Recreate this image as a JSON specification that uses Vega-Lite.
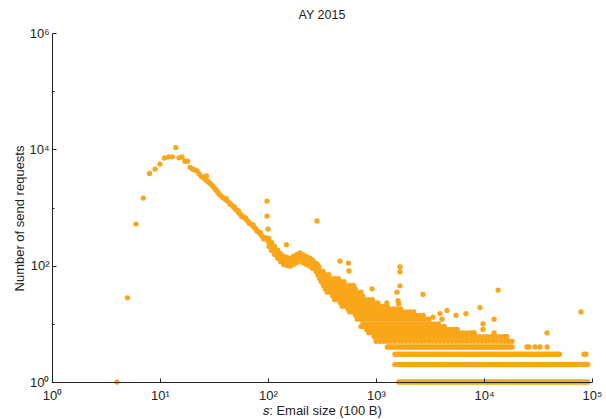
{
"$schema": "https://vega.github.io/schema/vega-lite/v6.json",
"width": 540,
"height": 349,
"autosize": "none",
"padding": {"left": 52, "top": 33, "right": 14, "bottom": 37},
"background": "white",
"title": {"text": "AY 2015", "frame": "group", "anchor": "middle", "font": "Liberation Sans", "fontSize": 12.5, "fontWeight": "normal", "color": "#222222", "offset": 6},
"config": {"view": {"stroke": null}, "font": "Liberation Sans"},
"data": {"values": [
{"s":4,"n":1},{"s":5,"n":28},{"s":6,"n":519},{"s":7,"n":1450},{"s":8,"n":3860},{"s":9,"n":4570},{"s":10,"n":5570},{"s":11,"n":7100},{"s":12,"n":7430},{"s":13,"n":7430},{"s":14,"n":10700},{"s":15,"n":7140},{"s":16,"n":7430},{"s":17,"n":6270},{"s":18,"n":6270},{"s":19,"n":4900},
{"s":20,"n":4570},{"s":21,"n":4420},{"s":22,"n":4270},{"s":23,"n":3800},{"s":24,"n":3470},{"s":25,"n":3310},{"s":26,"n":3090},{"s":27,"n":3500},{"s":27,"n":2920},{"s":28,"n":2750},{"s":29,"n":2610},{"s":30,"n":2450},{"s":31,"n":2310},{"s":32,"n":2140},{"s":33,"n":2000},{"s":34,"n":1860},{"s":35,"n":1740},{"s":36,"n":1630},{"s":38,"n":1500},{"s":40,"n":1380},{"s":42,"n":1290},{"s":44,"n":1200},{"s":46,"n":1110},{"s":48,"n":1020},{"s":50,"n":933},{"s":52,"n":859},{"s":54,"n":804},{"s":56,"n":755},{"s":58,"n":713},{"s":60,"n":671},{"s":63,"n":617},{"s":66,"n":568},{"s":69,"n":525},{"s":72,"n":485},{"s":75,"n":450},{"s":78,"n":417},{"s":81,"n":389},{"s":84,"n":359},{"s":87,"n":331},{"s":90,"n":309},{"s":93,"n":299},{"s":96,"n":288},{"s":99,"n":279},{"s":102,"n":251},{"s":105,"n":234},{"s":108,"n":214},{"s":111,"n":200},{"s":115,"n":184},{"s":119,"n":170},{"s":123,"n":158},{"s":127,"n":148},{"s":131,"n":138},{"s":135,"n":129},{"s":140,"n":123},{"s":145,"n":122},{"s":150,"n":119},{"s":155,"n":117},{"s":160,"n":115},{"s":166,"n":120},{"s":172,"n":123},{"s":178,"n":126},{"s":184,"n":132},{"s":190,"n":136},{"s":197,"n":141},{"s":204,"n":136},{"s":211,"n":132},{"s":218,"n":129},{"s":226,"n":124},{"s":234,"n":120},{"s":242,"n":116},{"s":250,"n":112},{"s":259,"n":106},{"s":268,"n":100},{"s":277,"n":95},{"s":287,"n":89},{"s":297,"n":81},
{"s":41,"n":1420},{"s":45,"n":1120},{"s":49,"n":1010},{"s":53,"n":880},{"s":57,"n":700},{"s":62,"n":660},{"s":67,"n":530},{"s":73,"n":500},{"s":79,"n":390},{"s":85,"n":370},{"s":91,"n":290},{"s":97,"n":300},
{"s":102,"n":294},{"s":102,"n":213},{"s":108,"n":250},{"s":108,"n":182},{"s":115,"n":215},{"s":115,"n":156},{"s":123,"n":185},{"s":123,"n":134},{"s":131,"n":161},{"s":131,"n":117},{"s":140,"n":144},{"s":140,"n":105},{"s":150,"n":139},{"s":150,"n":101},{"s":160,"n":135},{"s":160,"n":98},{"s":172,"n":144},{"s":172,"n":105},{"s":184,"n":154},{"s":184,"n":112},{"s":197,"n":165},{"s":197,"n":120},{"s":211,"n":154},{"s":211,"n":112},{"s":226,"n":145},{"s":226,"n":105},{"s":242,"n":136},{"s":242,"n":99},{"s":259,"n":124},{"s":259,"n":90},{"s":277,"n":111},{"s":277,"n":81},{"s":287,"n":104},{"s":287,"n":76},{"s":297,"n":95},{"s":297,"n":69},
{"s":98,"n":1290},{"s":98,"n":712},{"s":100,"n":425},{"s":148,"n":230},{"s":284,"n":587},{"s":464,"n":120},{"s":555,"n":111},{"s":562,"n":81},{"s":400,"n":31},{"s":522,"n":23},{"s":918,"n":40},{"s":1667,"n":95},{"s":1667,"n":78},{"s":1667,"n":45},{"s":1565,"n":35},{"s":1600,"n":25},{"s":1620,"n":22},{"s":759,"n":9},{"s":1260,"n":23},{"s":2724,"n":32},{"s":3916,"n":15},{"s":4540,"n":17},{"s":5510,"n":14},{"s":6810,"n":15},{"s":9180,"n":19},{"s":9800,"n":10},{"s":9800,"n":8},{"s":12400,"n":12},{"s":12400,"n":7},{"s":13500,"n":38},{"s":15600,"n":6},{"s":16300,"n":6},{"s":17000,"n":5},{"s":4080,"n":12},{"s":3370,"n":13},{"s":7900,"n":7},{"s":38300,"n":7},{"s":79100,"n":16},
{"s":285,"n":80},{"s":300,"n":80},{"s":325,"n":80},
{"s":290,"n":70},{"s":312,"n":70},{"s":338,"n":70},{"s":366,"n":70},
{"s":300,"n":60},{"s":325,"n":60},{"s":352,"n":60},{"s":381,"n":60},{"s":413,"n":60},{"s":448,"n":60},
{"s":312,"n":53},{"s":338,"n":53},{"s":366,"n":53},{"s":397,"n":53},{"s":430,"n":53},{"s":467,"n":53},{"s":506,"n":53},
{"s":325,"n":46},{"s":352,"n":46},{"s":381,"n":46},{"s":413,"n":46},{"s":448,"n":46},{"s":486,"n":46},{"s":527,"n":46},{"s":571,"n":46},{"s":619,"n":46},
{"s":338,"n":40},{"s":366,"n":40},{"s":397,"n":40},{"s":430,"n":40},{"s":467,"n":40},{"s":506,"n":40},{"s":549,"n":40},{"s":594,"n":40},{"s":645,"n":40},
{"s":352,"n":35},{"s":381,"n":35},{"s":413,"n":35},{"s":448,"n":35},{"s":486,"n":35},{"s":527,"n":35},{"s":571,"n":35},{"s":619,"n":35},{"s":671,"n":35},{"s":727,"n":35},
{"s":397,"n":30},{"s":430,"n":30},{"s":467,"n":30},{"s":506,"n":30},{"s":549,"n":30},{"s":594,"n":30},{"s":645,"n":30},{"s":699,"n":30},{"s":757,"n":30},
{"s":413,"n":26},{"s":448,"n":26},{"s":486,"n":26},{"s":527,"n":26},{"s":571,"n":26},{"s":619,"n":26},{"s":671,"n":26},{"s":727,"n":26},{"s":788,"n":26},{"s":855,"n":26},{"s":927,"n":26},
{"s":467,"n":23},{"s":506,"n":23},{"s":549,"n":23},{"s":594,"n":23},{"s":645,"n":23},{"s":699,"n":23},{"s":757,"n":23},{"s":821,"n":23},{"s":890,"n":23},{"s":963,"n":23},{"s":1041,"n":23},
{"s":486,"n":20},{"s":527,"n":20},{"s":571,"n":20},{"s":619,"n":20},{"s":671,"n":20},{"s":727,"n":20},{"s":788,"n":20},{"s":855,"n":20},{"s":927,"n":20},{"s":1000,"n":20},{"s":1084,"n":20},{"s":1175,"n":20},{"s":1274,"n":20},
{"s":549,"n":18},{"s":594,"n":18},{"s":645,"n":18},{"s":699,"n":18},{"s":757,"n":18},{"s":821,"n":18},{"s":890,"n":18},{"s":963,"n":18},{"s":1041,"n":18},{"s":1128,"n":18},{"s":1223,"n":18},{"s":1327,"n":18},{"s":1437,"n":18},{"s":1558,"n":18},{"s":1689,"n":18},
{"s":571,"n":16},{"s":619,"n":16},{"s":671,"n":16},{"s":727,"n":16},{"s":788,"n":16},{"s":855,"n":16},{"s":927,"n":16},{"s":1000,"n":16},{"s":1084,"n":16},{"s":1175,"n":16},{"s":1274,"n":16},{"s":1380,"n":16},{"s":1496,"n":16},{"s":1622,"n":16},{"s":1758,"n":16},{"s":1905,"n":16},{"s":2065,"n":16},{"s":2239,"n":16},
{"s":645,"n":14},{"s":699,"n":14},{"s":757,"n":14},{"s":821,"n":14},{"s":890,"n":14},{"s":963,"n":14},{"s":1041,"n":14},{"s":1128,"n":14},{"s":1223,"n":14},{"s":1327,"n":14},{"s":1437,"n":14},{"s":1558,"n":14},{"s":1689,"n":14},{"s":1830,"n":14},{"s":1984,"n":14},{"s":2150,"n":14},{"s":2331,"n":14},{"s":2527,"n":14},{"s":2739,"n":14},
{"s":671,"n":12},{"s":727,"n":12},{"s":788,"n":12},{"s":855,"n":12},{"s":927,"n":12},{"s":1000,"n":12},{"s":1084,"n":12},{"s":1175,"n":12},{"s":1274,"n":12},{"s":1380,"n":12},{"s":1496,"n":12},{"s":1622,"n":12},{"s":1758,"n":12},{"s":1905,"n":12},{"s":2065,"n":12},{"s":2239,"n":12},{"s":2427,"n":12},{"s":2630,"n":12},{"s":2851,"n":12},{"s":3090,"n":12},
{"s":757,"n":10},{"s":821,"n":10},{"s":890,"n":10},{"s":963,"n":10},{"s":1041,"n":10},{"s":1128,"n":10},{"s":1223,"n":10},{"s":1327,"n":10},{"s":1437,"n":10},{"s":1558,"n":10},{"s":1689,"n":10},{"s":1830,"n":10},{"s":1984,"n":10},{"s":2150,"n":10},{"s":2331,"n":10},{"s":2527,"n":10},{"s":2739,"n":10},{"s":2968,"n":10},{"s":3217,"n":10},{"s":3488,"n":10},{"s":3780,"n":10},
{"s":727,"n":9},{"s":788,"n":9},{"s":855,"n":9},{"s":927,"n":9},{"s":1000,"n":9},{"s":1084,"n":9},{"s":1175,"n":9},{"s":1274,"n":9},{"s":1380,"n":9},{"s":1496,"n":9},{"s":1622,"n":9},{"s":1758,"n":9},{"s":1905,"n":9},{"s":2065,"n":9},{"s":2239,"n":9},{"s":2427,"n":9},{"s":2630,"n":9},{"s":2851,"n":9},{"s":3090,"n":9},{"s":3350,"n":9},{"s":3631,"n":9},{"s":3936,"n":9},{"s":4267,"n":9},
{"s":821,"n":8},{"s":890,"n":8},{"s":963,"n":8},{"s":1041,"n":8},{"s":1128,"n":8},{"s":1223,"n":8},{"s":1327,"n":8},{"s":1437,"n":8},{"s":1558,"n":8},{"s":1689,"n":8},{"s":1830,"n":8},{"s":1984,"n":8},{"s":2150,"n":8},{"s":2331,"n":8},{"s":2527,"n":8},{"s":2739,"n":8},{"s":2968,"n":8},{"s":3217,"n":8},{"s":3488,"n":8},{"s":3780,"n":8},{"s":4098,"n":8},{"s":4443,"n":8},{"s":4815,"n":8},{"s":5220,"n":8},{"s":5659,"n":8},
{"s":855,"n":7},{"s":927,"n":7},{"s":1000,"n":7},{"s":1084,"n":7},{"s":1175,"n":7},{"s":1274,"n":7},{"s":1380,"n":7},{"s":1496,"n":7},{"s":1622,"n":7},{"s":1758,"n":7},{"s":1905,"n":7},{"s":2065,"n":7},{"s":2239,"n":7},{"s":2427,"n":7},{"s":2630,"n":7},{"s":2851,"n":7},{"s":3090,"n":7},{"s":3350,"n":7},{"s":3631,"n":7},{"s":3936,"n":7},{"s":4267,"n":7},{"s":4625,"n":7},{"s":5013,"n":7},{"s":5435,"n":7},{"s":5891,"n":7},{"s":6386,"n":7},{"s":6922,"n":7},{"s":7503,"n":7},{"s":8134,"n":7},
{"s":963,"n":6},{"s":1041,"n":6},{"s":1128,"n":6},{"s":1223,"n":6},{"s":1327,"n":6},{"s":1437,"n":6},{"s":1558,"n":6},{"s":1689,"n":6},{"s":1830,"n":6},{"s":1984,"n":6},{"s":2150,"n":6},{"s":2331,"n":6},{"s":2527,"n":6},{"s":2739,"n":6},{"s":2968,"n":6},{"s":3217,"n":6},{"s":3488,"n":6},{"s":3780,"n":6},{"s":4098,"n":6},{"s":4443,"n":6},{"s":4815,"n":6},{"s":5220,"n":6},{"s":5659,"n":6},{"s":6134,"n":6},{"s":6649,"n":6},{"s":7207,"n":6},{"s":7812,"n":6},{"s":8469,"n":6},{"s":9180,"n":6},{"s":9951,"n":6},{"s":10790,"n":6},{"s":11690,"n":6},{"s":12670,"n":6},{"s":13730,"n":6},{"s":14890,"n":6},{"s":16140,"n":6},
{"s":1000,"n":5},{"s":1084,"n":5},{"s":1175,"n":5},{"s":1274,"n":5},{"s":1380,"n":5},{"s":1496,"n":5},{"s":1622,"n":5},{"s":1758,"n":5},{"s":1905,"n":5},{"s":2065,"n":5},{"s":2239,"n":5},{"s":2427,"n":5},{"s":2630,"n":5},{"s":2851,"n":5},{"s":3090,"n":5},{"s":3350,"n":5},{"s":3631,"n":5},{"s":3936,"n":5},{"s":4267,"n":5},{"s":4625,"n":5},{"s":5013,"n":5},{"s":5435,"n":5},{"s":5891,"n":5},{"s":6386,"n":5},{"s":6922,"n":5},{"s":7503,"n":5},{"s":8134,"n":5},{"s":8817,"n":5},{"s":9557,"n":5},{"s":10360,"n":5},{"s":11230,"n":5},{"s":12170,"n":5},{"s":13190,"n":5},{"s":14300,"n":5},{"s":15500,"n":5},{"s":16800,"n":5},{"s":18210,"n":5},
{"s":1274,"n":4},{"s":1327,"n":4},{"s":1380,"n":4},{"s":1437,"n":4},{"s":1496,"n":4},{"s":1558,"n":4},{"s":1622,"n":4},{"s":1689,"n":4},{"s":1758,"n":4},{"s":1830,"n":4},{"s":1905,"n":4},{"s":1984,"n":4},{"s":2065,"n":4},{"s":2150,"n":4},{"s":2239,"n":4},{"s":2331,"n":4},{"s":2427,"n":4},{"s":2527,"n":4},{"s":2630,"n":4},{"s":2739,"n":4},{"s":2851,"n":4},{"s":2968,"n":4},{"s":3090,"n":4},{"s":3217,"n":4},{"s":3350,"n":4},{"s":3488,"n":4},{"s":3631,"n":4},{"s":3780,"n":4},{"s":3936,"n":4},{"s":4098,"n":4},{"s":4267,"n":4},{"s":4443,"n":4},{"s":4625,"n":4},{"s":4815,"n":4},{"s":5013,"n":4},{"s":5220,"n":4},{"s":5435,"n":4},{"s":5659,"n":4},{"s":5891,"n":4},{"s":6134,"n":4},{"s":6386,"n":4},{"s":6649,"n":4},{"s":6922,"n":4},{"s":7207,"n":4},{"s":7503,"n":4},{"s":7812,"n":4},{"s":8134,"n":4},{"s":8469,"n":4},{"s":8817,"n":4},{"s":9180,"n":4},{"s":9557,"n":4},{"s":9951,"n":4},{"s":10360,"n":4},{"s":10790,"n":4},{"s":11230,"n":4},{"s":11690,"n":4},{"s":12170,"n":4},{"s":12670,"n":4},{"s":13190,"n":4},{"s":13730,"n":4},{"s":14300,"n":4},{"s":14890,"n":4},{"s":15500,"n":4},{"s":16140,"n":4},{"s":16800,"n":4},{"s":17490,"n":4},{"s":18210,"n":4},{"s":25000,"n":4},{"s":26100,"n":4},{"s":29650,"n":4},{"s":33000,"n":4},{"s":38300,"n":4},
{"s":1496,"n":3},{"s":1558,"n":3},{"s":1622,"n":3},{"s":1689,"n":3},{"s":1758,"n":3},{"s":1830,"n":3},{"s":1905,"n":3},{"s":1984,"n":3},{"s":2065,"n":3},{"s":2150,"n":3},{"s":2239,"n":3},{"s":2331,"n":3},{"s":2427,"n":3},{"s":2527,"n":3},{"s":2630,"n":3},{"s":2739,"n":3},{"s":2851,"n":3},{"s":2968,"n":3},{"s":3090,"n":3},{"s":3217,"n":3},{"s":3350,"n":3},{"s":3488,"n":3},{"s":3631,"n":3},{"s":3780,"n":3},{"s":3936,"n":3},{"s":4098,"n":3},{"s":4267,"n":3},{"s":4443,"n":3},{"s":4625,"n":3},{"s":4815,"n":3},{"s":5013,"n":3},{"s":5220,"n":3},{"s":5435,"n":3},{"s":5659,"n":3},{"s":5891,"n":3},{"s":6134,"n":3},{"s":6386,"n":3},{"s":6649,"n":3},{"s":6922,"n":3},{"s":7207,"n":3},{"s":7503,"n":3},{"s":7812,"n":3},{"s":8134,"n":3},{"s":8469,"n":3},{"s":8817,"n":3},{"s":9180,"n":3},{"s":9557,"n":3},{"s":9951,"n":3},{"s":10360,"n":3},{"s":10790,"n":3},{"s":11230,"n":3},{"s":11690,"n":3},{"s":12170,"n":3},{"s":12670,"n":3},{"s":13190,"n":3},{"s":13730,"n":3},{"s":14300,"n":3},{"s":14890,"n":3},{"s":15500,"n":3},{"s":16140,"n":3},{"s":16800,"n":3},{"s":17490,"n":3},{"s":18210,"n":3},{"s":18960,"n":3},{"s":19740,"n":3},{"s":20550,"n":3},{"s":21400,"n":3},{"s":22280,"n":3},{"s":23200,"n":3},{"s":24150,"n":3},{"s":25150,"n":3},{"s":26190,"n":3},{"s":27260,"n":3},{"s":28380,"n":3},{"s":29550,"n":3},{"s":30770,"n":3},{"s":32030,"n":3},{"s":33350,"n":3},{"s":34720,"n":3},{"s":36150,"n":3},{"s":37640,"n":3},{"s":39190,"n":3},{"s":40800,"n":3},{"s":42480,"n":3},{"s":44230,"n":3},{"s":46050,"n":3},{"s":47950,"n":3},{"s":49920,"n":3},{"s":84330,"n":3},{"s":87800,"n":3},
{"s":1496,"n":2},{"s":1622,"n":2},{"s":1689,"n":2},{"s":1758,"n":2},{"s":1830,"n":2},{"s":1905,"n":2},{"s":1984,"n":2},{"s":2065,"n":2},{"s":2150,"n":2},{"s":2239,"n":2},{"s":2331,"n":2},{"s":2427,"n":2},{"s":2527,"n":2},{"s":2630,"n":2},{"s":2739,"n":2},{"s":2851,"n":2},{"s":2968,"n":2},{"s":3090,"n":2},{"s":3217,"n":2},{"s":3350,"n":2},{"s":3488,"n":2},{"s":3631,"n":2},{"s":3780,"n":2},{"s":3936,"n":2},{"s":4098,"n":2},{"s":4267,"n":2},{"s":4443,"n":2},{"s":4625,"n":2},{"s":4815,"n":2},{"s":5013,"n":2},{"s":5220,"n":2},{"s":5435,"n":2},{"s":5659,"n":2},{"s":5891,"n":2},{"s":6134,"n":2},{"s":6386,"n":2},{"s":6649,"n":2},{"s":6922,"n":2},{"s":7207,"n":2},{"s":7503,"n":2},{"s":7812,"n":2},{"s":8134,"n":2},{"s":8469,"n":2},{"s":8817,"n":2},{"s":9180,"n":2},{"s":9557,"n":2},{"s":9951,"n":2},{"s":10360,"n":2},{"s":10790,"n":2},{"s":11230,"n":2},{"s":11690,"n":2},{"s":12170,"n":2},{"s":12670,"n":2},{"s":13190,"n":2},{"s":13730,"n":2},{"s":14300,"n":2},{"s":14890,"n":2},{"s":15500,"n":2},{"s":16140,"n":2},{"s":16800,"n":2},{"s":17490,"n":2},{"s":18210,"n":2},{"s":18960,"n":2},{"s":19740,"n":2},{"s":20550,"n":2},{"s":21400,"n":2},{"s":22280,"n":2},{"s":23200,"n":2},{"s":24150,"n":2},{"s":25150,"n":2},{"s":26190,"n":2},{"s":27260,"n":2},{"s":28380,"n":2},{"s":29550,"n":2},{"s":30770,"n":2},{"s":32030,"n":2},{"s":33350,"n":2},{"s":34720,"n":2},{"s":36150,"n":2},{"s":37640,"n":2},{"s":39190,"n":2},{"s":40800,"n":2},{"s":42480,"n":2},{"s":44230,"n":2},{"s":46050,"n":2},{"s":47950,"n":2},{"s":49920,"n":2},{"s":51980,"n":2},{"s":54120,"n":2},{"s":56340,"n":2},{"s":58660,"n":2},{"s":61070,"n":2},{"s":63590,"n":2},{"s":66200,"n":2},{"s":68930,"n":2},{"s":71760,"n":2},{"s":74720,"n":2},{"s":77790,"n":2},{"s":80990,"n":2},{"s":84330,"n":2},{"s":87800,"n":2},{"s":91410,"n":2},
{"s":1622,"n":1},{"s":1689,"n":1},{"s":1758,"n":1},{"s":1830,"n":1},{"s":1905,"n":1},{"s":1984,"n":1},{"s":2065,"n":1},{"s":2150,"n":1},{"s":2239,"n":1},{"s":2331,"n":1},{"s":2427,"n":1},{"s":2527,"n":1},{"s":2630,"n":1},{"s":2739,"n":1},{"s":2851,"n":1},{"s":2968,"n":1},{"s":3090,"n":1},{"s":3217,"n":1},{"s":3350,"n":1},{"s":3488,"n":1},{"s":3631,"n":1},{"s":3780,"n":1},{"s":3936,"n":1},{"s":4098,"n":1},{"s":4267,"n":1},{"s":4443,"n":1},{"s":4625,"n":1},{"s":4815,"n":1},{"s":5013,"n":1},{"s":5220,"n":1},{"s":5435,"n":1},{"s":5659,"n":1},{"s":5891,"n":1},{"s":6134,"n":1},{"s":6386,"n":1},{"s":6649,"n":1},{"s":6922,"n":1},{"s":7207,"n":1},{"s":7503,"n":1},{"s":7812,"n":1},{"s":8134,"n":1},{"s":8469,"n":1},{"s":8817,"n":1},{"s":9180,"n":1},{"s":9557,"n":1},{"s":9951,"n":1},{"s":10360,"n":1},{"s":10790,"n":1},{"s":11230,"n":1},{"s":11690,"n":1},{"s":12170,"n":1},{"s":12670,"n":1},{"s":13190,"n":1},{"s":13730,"n":1},{"s":14300,"n":1},{"s":14890,"n":1},{"s":15500,"n":1},{"s":16140,"n":1},{"s":16800,"n":1},{"s":17490,"n":1},{"s":18210,"n":1},{"s":18960,"n":1},{"s":19740,"n":1},{"s":20550,"n":1},{"s":21400,"n":1},{"s":22280,"n":1},{"s":23200,"n":1},{"s":24150,"n":1},{"s":25150,"n":1},{"s":26190,"n":1},{"s":27260,"n":1},{"s":28380,"n":1},{"s":29550,"n":1},{"s":30770,"n":1},{"s":32030,"n":1},{"s":33350,"n":1},{"s":34720,"n":1},{"s":36150,"n":1},{"s":37640,"n":1},{"s":39190,"n":1},{"s":40800,"n":1},{"s":42480,"n":1},{"s":44230,"n":1},{"s":46050,"n":1},{"s":47950,"n":1},{"s":49920,"n":1},{"s":51980,"n":1},{"s":54120,"n":1},{"s":56340,"n":1},{"s":58660,"n":1},{"s":61070,"n":1},{"s":63590,"n":1},{"s":66200,"n":1},{"s":68930,"n":1},{"s":71760,"n":1},{"s":74720,"n":1},{"s":77790,"n":1},{"s":80990,"n":1},{"s":84330,"n":1},{"s":87800,"n":1},{"s":91410,"n":1}
]},
"mark": {"type": "circle", "size": 28, "opacity": 1, "color": "#faa61a"},
"encoding": {
"x": {"field": "s", "type": "quantitative",
 "scale": {"type": "log", "domain": [1, 100000], "nice": false},
 "axis": {"title": "𝑠: Email size (100 B)", "values": [1, 10, 100, 1000, 10000, 100000],
  "labelExpr": "'10' + ['⁰','¹','²','³','⁴','⁵','⁶'][round(log(datum.value)/LN10)]",
  "grid": false, "tickSize": -4, "tickColor": "#222222", "domainColor": "#222222", "domainWidth": 1, "tickWidth": 1,
  "labelFont": "Liberation Sans", "labelFontSize": 13, "labelColor": "#222222", "labelPadding": 11, "labelFlush": false,
  "titleFont": "Liberation Sans", "titleFontSize": 13, "titleFontWeight": "normal", "titleColor": "#222222", "titlePadding": 2, "zindex": 1}},
"y": {"field": "n", "type": "quantitative",
 "scale": {"type": "log", "domain": [1, 1000000], "nice": false},
 "axis": {"title": "Number of send requests", "values": [1, 10, 100, 1000, 10000, 100000, 1000000],
  "labelExpr": "round(log(datum.value)/LN10) % 2 == 0 ? '10' + ['⁰','¹','²','³','⁴','⁵','⁶'][round(log(datum.value)/LN10)] : ''",
  "grid": false, "tickSize": {"condition": {"test": "round(log(datum.value)/LN10) % 2 == 1", "value": -2}, "value": -4}, "tickColor": "#222222", "domainColor": "#222222", "domainWidth": 1, "tickWidth": 1,
  "labelFont": "Liberation Sans", "labelFontSize": 13, "labelColor": "#222222", "labelPadding": 7, "labelFlush": false,
  "titleFont": "Liberation Sans", "titleFontSize": 13, "titleFontWeight": "normal", "titleColor": "#222222", "titlePadding": 2, "titleY": 185, "zindex": 1}}
}
}
